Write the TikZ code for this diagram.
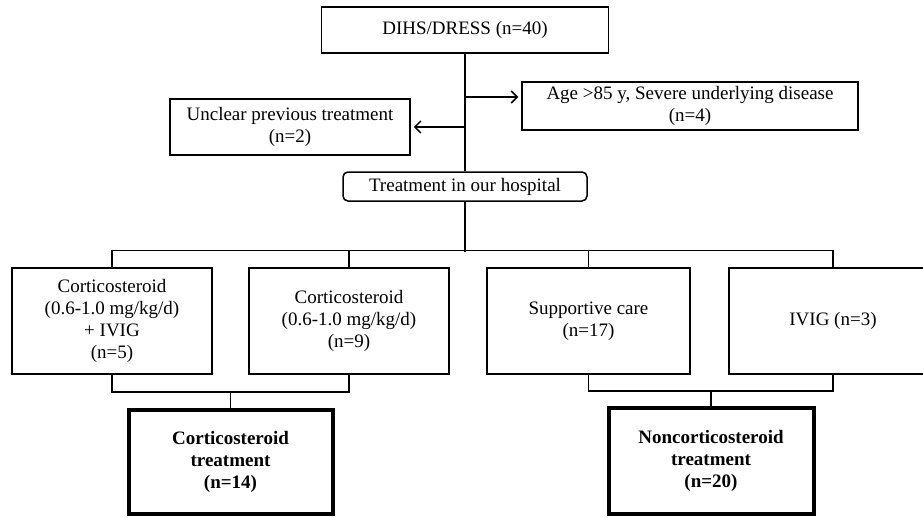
\documentclass[tikz,border=0pt]{standalone}
\usepackage{fontspec}
\setmainfont{Liberation Serif}
\usetikzlibrary{arrows.meta}
\begin{document}
\begin{tikzpicture}[x=1pt,y=-1pt,line width=1.5pt,
        box/.style={draw,line width=1.5pt,align=center,inner sep=0pt,font=\fontsize{19}{22}\selectfont},
        result/.style={box,line width=4pt,font=\fontsize{19}{22}\selectfont\bfseries},
        arr/.style={-{Straight Barb[length=6pt,width=12pt]}}]
        \useasboundingbox (0,0) rectangle (923,517);
        \node[box,minimum width=287pt,minimum height=46pt] (dress) at (465,30) {DIHS/DRESS (n=40)};
        \node[box,minimum width=336pt,minimum height=48pt] (age) at (690,106) {Age >85 y, Severe underlying disease\\(n=4)};
        \node[box,minimum width=240pt,minimum height=56pt] (unclear) at (290,127) {Unclear previous treatment\\(n=2)};
        \node[box,rounded corners=5pt,minimum width=244pt,minimum height=29pt] (hosp) at (465,186.5) {Treatment in our hospital};
        \node[box,minimum width=200pt,minimum height=106pt] (cs1) at (112,321) {Corticosteroid\\(0.6-1.0 mg/kg/d)\\+ IVIG\\(n=5)};
        \node[box,minimum width=200pt,minimum height=106pt] (cs2) at (349,321) {Corticosteroid\\(0.6-1.0 mg/kg/d)\\(n=9)};
        \node[box,minimum width=203pt,minimum height=106pt] (care) at (588.5,321) {Supportive care\\(n=17)};
        \node[box,minimum width=208pt,minimum height=106pt] (ivig) at (833,321) {IVIG (n=3)};
        \node[result,minimum width=204pt,minimum height=104pt] (cst) at (230.5,461.5) {Corticosteroid\\treatment\\(n=14)};
        \node[result,minimum width=205pt,minimum height=106pt] (ncst) at (711,460.5) {Noncorticosteroid\\treatment\\(n=20)};
        \coordinate (agein) at ([yshift=9pt]age.west);
        \draw (dress.south) -- (hosp.north);
        \draw[arr,shorten >=3pt] (agein -| dress.south) -- (agein);
        \draw[arr,shorten >=3pt] (unclear.east -| dress.south) -- (unclear.east);
        \draw (hosp.south) -- ++(0,50);
        \draw (cs1.north) -- ++(0,-17) -| (ivig.north);
        \draw (cs2.north) -- ++(0,-17);
        \draw (care.north) -- ++(0,-17);
        \draw (cs1.south) -- ++(0,17) -| (cs2.south);
        \draw (cst.north) -- ++(0,-17);
        \draw (care.south) -- ++(0,16) -| (ivig.south);
        \draw (ncst.north) -- ++(0,-16);
\end{tikzpicture}
\end{document}
